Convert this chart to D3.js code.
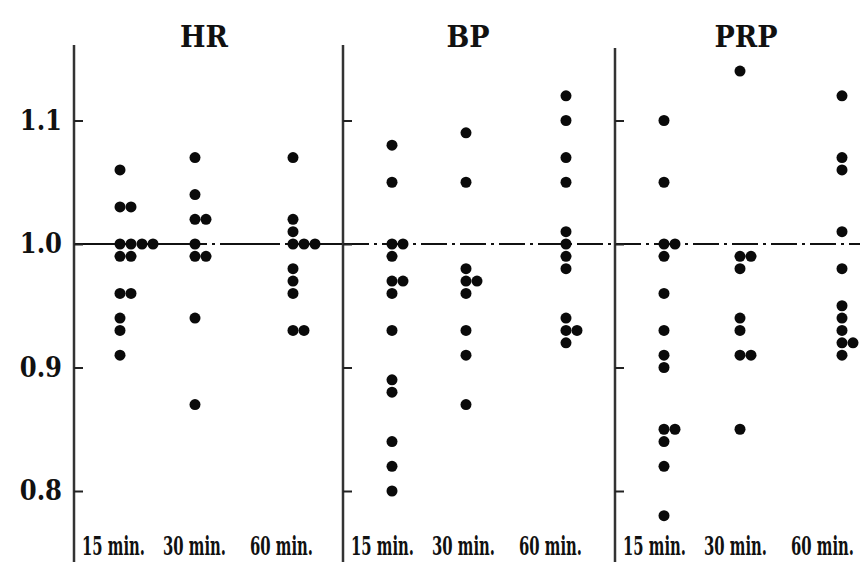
<!DOCTYPE html>
<html>
<head>
<meta charset="utf-8">
<script src="https://cdnjs.cloudflare.com/ajax/libs/d3/7.8.5/d3.min.js"></script>
<style>
  body { margin: 0; background: #fff; }
  .tick line { stroke: #222; stroke-width: 2px; }
</style>
</head>
<body>
<script>
// values (ratio to baseline)
var panels = ["HR", "BP", "PRP"];
var times = ["15 min.", "30 min.", "60 min."];
var yTicks = [0.8, 0.9, 1.0, 1.1];

var hr15 = [1.06, 1.03, 1.03, 1.00, 1.00, 1.00, 1.00, 0.99, 0.99, 0.96, 0.96, 0.94, 0.93, 0.91];
var hr30 = [1.07, 1.04, 1.02, 1.02, 1.00, 0.99, 0.99, 0.94, 0.87];
var hr60 = [1.07, 1.02, 1.01, 1.00, 1.00, 1.00, 0.98, 0.97, 0.96, 0.93, 0.93];

var bp15 = [1.08, 1.05, 1.00, 1.00, 0.99, 0.97, 0.97, 0.96, 0.93, 0.89, 0.88, 0.84, 0.82, 0.80];
var bp30 = [1.09, 1.05, 0.98, 0.97, 0.97, 0.96, 0.93, 0.91, 0.87];
var bp60 = [1.12, 1.10, 1.07, 1.05, 1.01, 1.00, 0.99, 0.98, 0.94, 0.93, 0.93, 0.92];

var prp15 = [1.10, 1.05, 1.00, 1.00, 0.99, 0.96, 0.93, 0.91, 0.90, 0.85, 0.85, 0.84, 0.82, 0.78];
var prp30 = [1.14, 0.99, 0.99, 0.98, 0.94, 0.93, 0.91, 0.91, 0.85];
var prp60 = [1.12, 1.07, 1.06, 1.01, 0.98, 0.95, 0.94, 0.93, 0.92, 0.92, 0.91];

var series = {
    HR: [hr15, hr30, hr60],
    BP: [bp15, bp30, bp60],
    PRP: [prp15, prp30, prp60]
};

// layout
var width = 860, height = 562;
var axisX = {HR: 74, BP: 343, PRP: 615};
var panelRight = {HR: 343, BP: 615, PRP: 860};
var colOffsets = {HR: [46, 121, 219], BP: [49, 123, 223], PRP: [49, 125, 227]};
var labelOffsets = [8, 89, 176];
var titleX = {HR: 204, BP: 468, PRP: 746};
var axisTop = {HR: 45, BP: 45, PRP: 48};
var dotR = 5.5, dupStep = 11;

var svg = d3.select("body")
    .append("svg")
        .attr("width", width)
        .attr("height", height);

var y = d3.scaleLinear().domain([0.8, 1.1]).range([491, 120.5]);

panels.forEach(function(p) {
    var x0 = axisX[p];
    var g = svg.append("g");

    var x = d3.scaleOrdinal()
        .domain(times)
        .range(colOffsets[p].map(function(o) { return x0 + o; }));

    // panel title
    g.append("text")
        .attr("x", titleX[p])
        .attr("y", 47)
        .style("text-anchor", "middle")
        .style("font-family", "'DejaVu Serif', serif")
        .style("font-weight", "bold")
        .style("font-stretch", "condensed")
        .style("font-size", "30px")
        .style("fill", "#111")
        .text(p);

    // reference line at 1.0
    g.append("line")
        .attr("x1", x0).attr("x2", panelRight[p])
        .attr("y1", y(1.0)).attr("y2", y(1.0))
        .style("stroke", "#111")
        .style("stroke-width", 2)
        .style("stroke-dasharray", p == "HR" ? "60,5,3,5" : "26,5,3,5");

    // vertical axis line
    g.append("line")
        .attr("x1", x0).attr("x2", x0)
        .attr("y1", axisTop[p]).attr("y2", height)
        .style("stroke", "#333")
        .style("stroke-width", 2.5);

    // ticks pointing inward, labels only on the first panel
    var yAxis = d3.axisLeft(y)
        .tickValues(yTicks)
        .tickSizeInner(-9)
        .tickSizeOuter(0)
        .tickPadding(12)
        .tickFormat(p == "HR" ? d3.format(".1f") : "");

    var ax = g.append("g")
        .attr("transform", "translate(" + x0 + ",0)")
        .call(yAxis);
    ax.select(".domain").remove();
    ax.selectAll(".tick text")
        .style("font-family", "'DejaVu Serif', serif")
        .style("font-weight", "bold")
        .style("font-stretch", "condensed")
        .style("font-size", "27px")
        .style("fill", "#111");

    // dots, equal values set side by side
    series[p].forEach(function(vals, ci) {
        var seen = {};
        var pts = vals.map(function(v) {
            var k = v.toFixed(2);
            seen[k] = (seen[k] || 0) + 1;
            return {v: v, n: seen[k] - 1};
        });
        g.append("g")
            .selectAll("circle")
            .data(pts)
            .enter()
            .append("circle")
                .attr("cx", function(d) { return x(times[ci]) + d.n * dupStep; })
                .attr("cy", function(d) { return y(d.v); })
                .attr("r", dotR)
                .style("fill", "#0a0a0a");
    });

    // time labels at the bottom, squeezed like the typewriter face
    g.selectAll(".tlabel")
        .data(times)
        .enter()
        .append("text")
            .attr("class", "tlabel")
            .attr("transform", function(d, i) {
                return "translate(" + (x0 + labelOffsets[i]) + ",555) scale(0.57,1)";
            })
            .style("font-family", "'DejaVu Serif', serif")
            .style("font-weight", "bold")
            .style("font-size", "26px")
            .style("fill", "#111")
            .text(function(d) { return d; });
});
</script>
</body>
</html>
